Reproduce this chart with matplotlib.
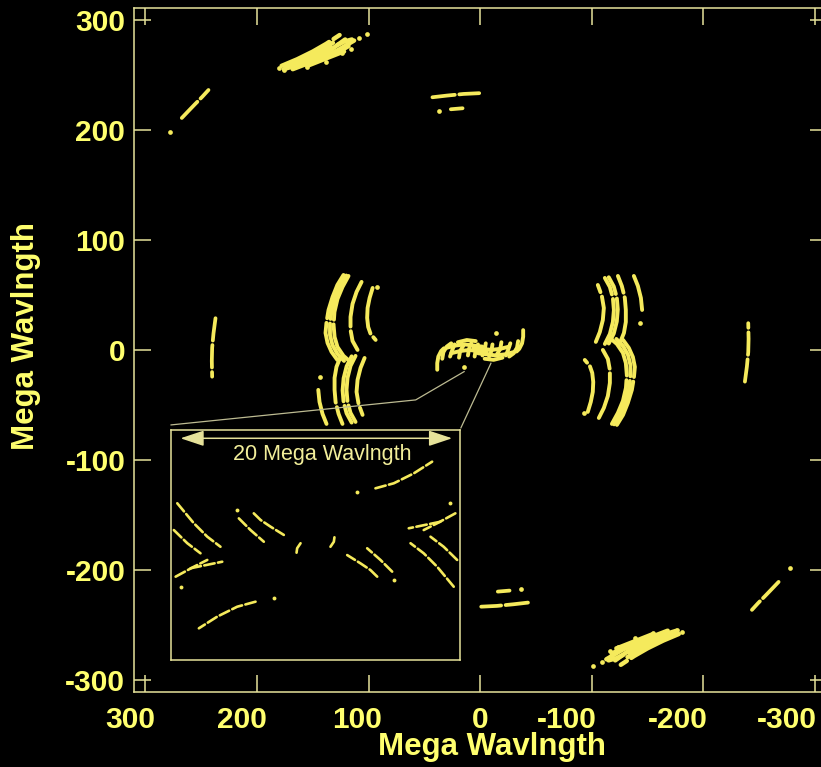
import numpy as np
import matplotlib
matplotlib.use('Agg')
import matplotlib.pyplot as plt
from matplotlib.transforms import ScaledTranslation

plt.rcParams['font.family'] = ['Liberation Sans', 'DejaVu Sans']
plt.rcParams['axes.unicode_minus'] = False

# ---------------- colours ----------------
TEXT = '#FFFF6E'
AXIS = '#E6E29A'
TRACK = '#F5EA5C'
THIN = '#BDBB92'
INSET_TEXT = '#F2EE9A'

# ---------------- labels ----------------
ticks = [300, 200, 100, 0, -100, -200, -300]
tick_labels = ['300', '200', '100', '0', '-100', '-200', '-300']
axis_label = 'Mega Wavlngth'
inset_label = '20 Mega Wavlngth'

# ---------------- main uv tracks (u, v) in Mega wavelength ----------------
# (the conjugate points (-u, -v) are drawn as well)
top_cluster = [
    [(178, 258), (164, 264), (150, 271), (138, 278), (126, 286)],
    [(174, 257), (160, 263), (146, 270), (132, 279)],
    [(170, 259), (158, 264), (146, 268), (134, 275)],
    [(166, 262), (152, 266), (140, 274)],
    [(160, 261), (148, 265), (136, 271), (121, 282)],
    [(145, 264), (136, 268), (128, 272), (113, 281)],
    [(128, 277), (122, 280), (115, 282)],
    [(133, 269), (122, 271)],
    [(176, 255), (160, 260), (148, 265)],
    [(168, 255), (150, 262), (135, 268)],
    [(155, 258), (140, 264), (125, 270)],
    [(143, 265), (128, 270), (118, 276)],
]
top_cluster_dots = [(180.6, 256.4), (176.1, 254.3), (155.1, 257.3), (138.6, 261.9),
                    (123.6, 269.5), (116.2, 273.1), (101.2, 287.0), (108.7, 283.1)]

upper_left_arc = [[(267.4, 210.7), (261, 217.5), (255.4, 223.4), (249, 230), (243.5, 236.1)]]
upper_left_dots = [(277.9, 198.3)]

top_middle = [
    [(42.8, 229.5), (30, 231), (15, 232.5), (0.9, 233.2)],
    [(26.3, 218.6), (15.8, 219.5)],
]
top_middle_dots = [(36.8, 217.3)]

far_left_arc = [[(237.2, 28.8), (239.0, 15), (240.2, 2), (240.5, -10), (240.2, -24.3)]]

left_group = [
    [(122.5, 68.1), (128.0, 59.0), (132.3, 48.1), (135.9, 36.3), (137.7, 25.4),
     (138.6, 15.4), (136.8, 6.4), (133.2, -1.8), (128.0, -9.1)],
    [(120.0, 67.6), (125.6, 58.0), (130.0, 47.2), (133.3, 35.4), (134.6, 24.0),
     (134.6, 13.6), (132.4, 4.5), (128.0, -3.5), (122.0, -10.0)],
    [(118.0, 67.2), (123.4, 57.2), (127.9, 46.3), (130.6, 34.5), (131.4, 22.7),
     (130.5, 11.8), (127.9, 2.7), (122.5, -5.4), (116.2, -10.9)],
    [(106.3, 61.8), (110.8, 52.7), (114.4, 41.8), (116.2, 30.0), (116.2, 18.2),
     (114.4, 8.2), (109.9, 0.0)],
    [(96.4, 56.3), (99.1, 47.2), (100.9, 38.1), (101.3, 29.1), (100.4, 20.9),
     (98.2, 14.5), (93.7, 9.1)],
    [(125.2, -6.4), (128.8, -15.4), (130.5, -25.4), (130.5, -36.3), (129.6, -47.2),
     (126.9, -58.1), (123.4, -67.2)],
    [(111.7, -5.4), (116.2, -14.5), (118.9, -25.4), (119.8, -36.3), (118.9, -47.2),
     (116.2, -57.2), (111.7, -65.4)],
    [(115.2, -5.8), (119.7, -14.9), (122.4, -25.8), (123.3, -36.7), (122.4, -47.6),
     (119.7, -57.6), (115.2, -66.0)],
    [(103.6, -7.3), (107.2, -16.3), (109.9, -27.2), (110.8, -38.1), (109.0, -49.0),
     (105.4, -59.0)],
    [(145.1, -36.3), (144.0, -47.2), (141.3, -58.1), (137.7, -67.2)],
]
left_group_dots = [(92.8, 57.5), (143.3, -24.5)]

centre_blob = [
    [(38.5, -18), (38.5, -12), (37.5, -6), (35, -1), (31, 3)],
    [(30, 2), (22, 4), (14, 5), (6, 4), (-2, 3)],
    [(26, -3), (18, -1), (10, 0), (2, -1), (-6, -2)],
    [(20, 7), (12, 9), (4, 8)],
    [(34, -8), (33, -2), (30, 3), (26, 6)],
    [(27, -6), (25, 0), (23, 5)],
    [(19, -7), (18, -1), (15, 4)],
    [(11, -5), (10, 1), (8, 6)],
    [(5, -6), (4, 0), (2, 5)],
]
centre_dots = [(14.4, -15.2)]

# connector lines from the zoomed region to the inset (main-axes units)
connector_1 = [(277.0, -68.1), (57.8, -45.4), (14.4, -19.7)]
connector_2 = [(-9.6, -12.1), (17.3, -70.8)]

# ---------------- inset tracks (Mega wavelength, inset units) ----------------
inset_tracks = [
    [(-4.41, 4.17), (-5.76, 4.54), (-7.23, 5.27), (-8.58, 6.13)],
    [(10.17, 3.07), (8.95, 1.60), (7.96, 0.61), (6.99, -0.13)],
    [(10.42, 1.10), (9.43, 0.13), (8.46, -0.61)],
    [(10.29, -2.33), (8.95, -1.60), (7.96, -1.10)],
    [(9.19, -1.71), (6.86, -1.23)],
    [(5.64, 1.96), (4.78, 1.10), (3.80, 0.24)],
    [(4.54, 2.33), (4.04, 1.84), (3.31, 1.35), (2.33, 0.74)],
    [(1.10, 0.13), (1.35, -0.24), (1.40, -0.61)],
]
inset_dots = [(-3.07, 3.92), (5.76, 2.57), (9.93, -3.07)]
arrow_u = (9.93, -10.05)
arrow_v = 7.85
inset_text_pos = (-0.49, 6.67)

# ---------------- figure ----------------
fig = plt.figure(figsize=(8.21, 7.67), dpi=100, facecolor='black')
ax = fig.add_axes([133.7 / 821, 75 / 767, 693 / 821, 683.7 / 767])
ax.set_facecolor('black')
ax.set_xticks(ticks, tick_labels, fontweight='bold')
ax.set_yticks(ticks, tick_labels, fontweight='bold')
ax.set_xlim(310.5, -310.5)
ax.set_ylim(-310.7, 310.3)
ax.tick_params(which='major', direction='in', length=12.2, width=1.1, color=AXIS,
               top=True, right=True, labelcolor=TEXT, labelsize=21.5)
ax.tick_params(axis='x', pad=10)
ax.tick_params(axis='y', pad=6)
for s in ax.spines.values():
    s.set_color(AXIS)
    s.set_linewidth(1.1)

x_label_dx = [-15, -15, -12, 0, -25, -26, -28]   # pixel shifts of the x tick labels
for tk, dx in zip(ax.xaxis.get_major_ticks(), x_label_dx):
    tk.label1.set_transform(tk.label1.get_transform() +
                            ScaledTranslation(dx / 100, 0, fig.dpi_scale_trans))

ax.set_xlabel(axis_label, fontsize=22.5, fontweight='bold', color=TEXT)
ax.xaxis.set_label_coords(0.5166, -0.058)
ax.set_ylabel(axis_label, fontsize=22.5, fontweight='bold', color=TEXT)
ax.yaxis.set_label_coords(-0.134, 0.521)


def draw_tracks(axis, tracks, lw, dashes):
    for tr in tracks:
        u = np.array([p[0] for p in tr], float)
        v = np.array([p[1] for p in tr], float)
        for sgn in (1, -1):
            axis.plot(sgn * u, sgn * v, color=TRACK, lw=lw, dashes=dashes,
                      dash_capstyle='round', solid_capstyle='round',
                      solid_joinstyle='round')


def draw_dots(axis, dots, ms):
    u = np.array([p[0] for p in dots], float)
    v = np.array([p[1] for p in dots], float)
    for sgn in (1, -1):
        axis.plot(sgn * u, sgn * v, 'o', ms=ms, color=TRACK, mec='none')


MAIN_DASH = (12, 1.2)
draw_tracks(ax, top_cluster, 3.2, MAIN_DASH)
draw_tracks(ax, left_group, 2.8, MAIN_DASH)
draw_tracks(ax, centre_blob, 2.8, (6, 0.8))
for group in (upper_left_arc, top_middle, far_left_arc):
    draw_tracks(ax, group, 2.7, (6, 1.2))
for dots in (top_cluster_dots, upper_left_dots, top_middle_dots, left_group_dots, centre_dots):
    draw_dots(ax, dots, 3.4)

for con in (connector_1, connector_2):
    ax.plot([p[0] for p in con], [p[1] for p in con], color=THIN, lw=0.9)

# ---------------- inset ----------------
axi = fig.add_axes([171 / 821, (767 - 660) / 767, 289 / 821, 230 / 767])
axi.set_facecolor('black')
axi.set_xlim(10.63, -10.63)
axi.set_ylim(-8.46, 8.46)
axi.set_xticks([])
axi.set_yticks([])
for s in axi.spines.values():
    s.set_color(AXIS)
    s.set_linewidth(1.1)
draw_tracks(axi, inset_tracks, 1.9, (4, 1.3))
draw_dots(axi, inset_dots, 2.8)
axi.annotate('', xy=(arrow_u[1], arrow_v), xytext=(arrow_u[0], arrow_v),
             arrowprops=dict(arrowstyle='<|-|>,head_length=0.9,head_width=0.3',
                             color=AXIS, lw=1.1, mutation_scale=16,
                             shrinkA=0, shrinkB=0))
axi.text(inset_text_pos[0], inset_text_pos[1], inset_label, color=INSET_TEXT,
         fontsize=15.5, ha='center', va='center')

fig.savefig('out.png', dpi=100, facecolor='black')
